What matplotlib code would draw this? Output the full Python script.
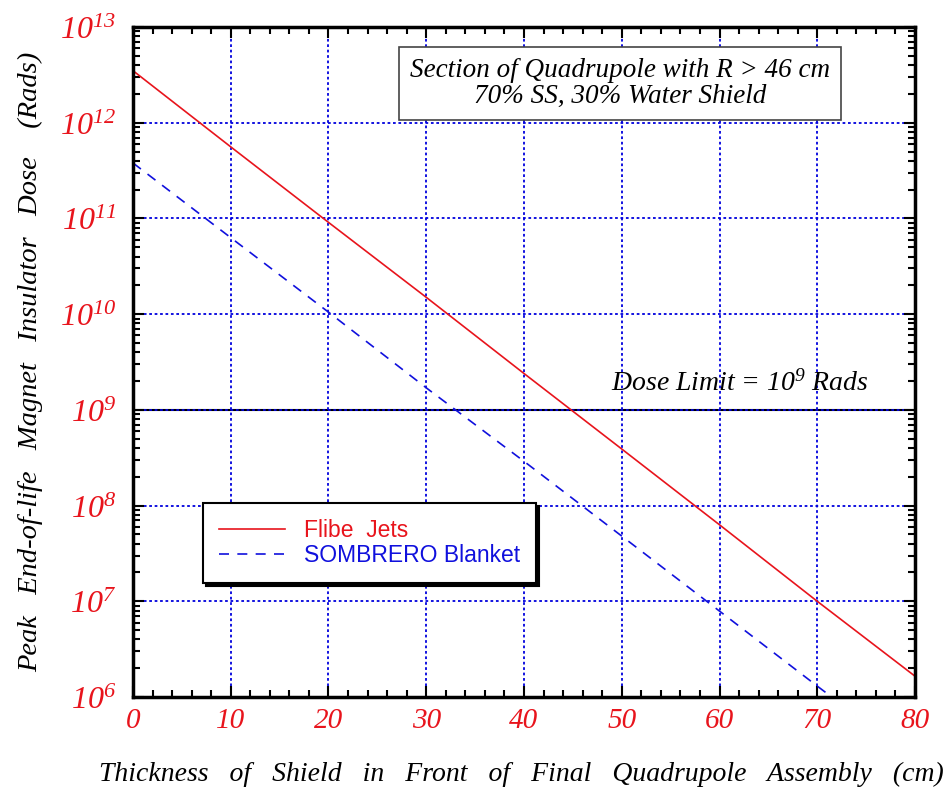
import matplotlib
matplotlib.use("Agg")
import matplotlib.pyplot as plt
from matplotlib.ticker import FixedLocator, LogLocator, NullFormatter, MultipleLocator

plt.rcParams['mathtext.fontset'] = 'custom'
plt.rcParams['mathtext.rm'] = 'Liberation Serif:italic'
plt.rcParams['mathtext.it'] = 'Liberation Serif:italic'

# datos
espesor = [0, 10, 20, 30, 40, 50, 60, 70, 80]
dosis_flibe = [3.5e12, 5.6e11, 9.1e10, 1.5e10, 2.4e9, 3.9e8, 6.3e7, 1.0e7, 1.65e6]
dosis_sombrero = [3.8e11, 6.3e10, 1.05e10, 1.7e9, 2.9e8, 4.8e7, 7.9e6, 1.3e6, 2.2e5]
exponentes = [6, 7, 8, 9, 10, 11, 12, 13]
limite_dosis = 1e9

serif = 'Liberation Serif'
sans = 'Liberation Sans'
rojo = '#e8141c'
azul = '#1010dd'

fig = plt.figure(figsize=(9.49, 7.9), dpi=100)
ax = fig.add_axes([0.1401, 0.1177, 0.8241, 0.8481])

ax.plot(espesor, dosis_flibe, color=rojo, lw=1.2, label='Flibe  Jets')
ax.plot(espesor, dosis_sombrero, color=azul, lw=1.2, ls=(0, (6, 5)),
        label='SOMBRERO Blanket')

ax.set_yscale('log')
ax.set_xlim(0, 80)
ax.set_ylim(1e6, 1e13)

# rejilla punteada azul
ax.grid(True, which='major', color='#0000dd', ls=(0, (1.5, 1.5)), lw=1.3, zorder=1.6)
ax.axhline(limite_dosis, color='black', lw=1.5, zorder=1.5)

ax.xaxis.set_major_locator(MultipleLocator(10))
ax.xaxis.set_minor_locator(MultipleLocator(2))
ax.yaxis.set_major_locator(FixedLocator([10.0**e for e in exponentes]))
ax.yaxis.set_minor_locator(LogLocator(base=10, subs=range(2, 10), numticks=20))
ax.yaxis.set_minor_formatter(NullFormatter())
ax.set_xticks(espesor)
ax.set_xticklabels([str(v) for v in espesor], fontfamily=serif,
                   style='italic', fontsize=21, color=rojo)
ax.set_yticklabels([r'$10^{%d}$' % e for e in exponentes], fontsize=23, color=rojo)

ax.tick_params(which='both', direction='in', top=True, right=True, width=1.5)
ax.tick_params(which='major', length=8, pad=8)
ax.tick_params(which='minor', length=5)
ax.tick_params(axis='y', which='major', pad=12)
for s in ax.spines.values():
    s.set_linewidth(2.5)

ax.set_xlabel('Thickness   of   Shield   in   Front   of   Final   Quadrupole   Assembly   (cm)',
              fontfamily=serif, style='italic', fontsize=20, labelpad=20, x=0.497)
ax.set_ylabel('Peak   End-of-life   Magnet   Insulator   Dose    (Rads)',
              fontfamily=serif, style='italic', fontsize=20.5, labelpad=12)

ax.text(0.623, 0.916, 'Section of Quadrupole with R > 46 cm\n70% SS, 30% Water Shield',
        transform=ax.transAxes, ha='center', va='center', fontfamily=serif,
        style='italic', fontsize=19.5, linespacing=1.05,
        bbox=dict(boxstyle='square,pad=0.4', fc='white', ec='#444444', lw=1.2))
ax.text(0.94, 0.468, r'Dose Limit = $10^{9}$ Rads', transform=ax.transAxes,
        ha='right', va='center', fontfamily=serif, style='italic', fontsize=20)

leg = ax.legend(loc='upper left', bbox_to_anchor=(0.0895, 0.2896), fancybox=False,
                shadow={'color': 'black', 'alpha': 1}, framealpha=1,
                prop={'family': sans, 'size': 16.5}, handlelength=2.9,
                borderpad=0.7, labelspacing=0.1, borderaxespad=0)
leg.get_frame().set_edgecolor('black')
leg.get_frame().set_linewidth(1.5)
leg.get_texts()[0].set_color(rojo)
leg.get_texts()[1].set_color(azul)

fig.savefig('out.png', dpi=100)
